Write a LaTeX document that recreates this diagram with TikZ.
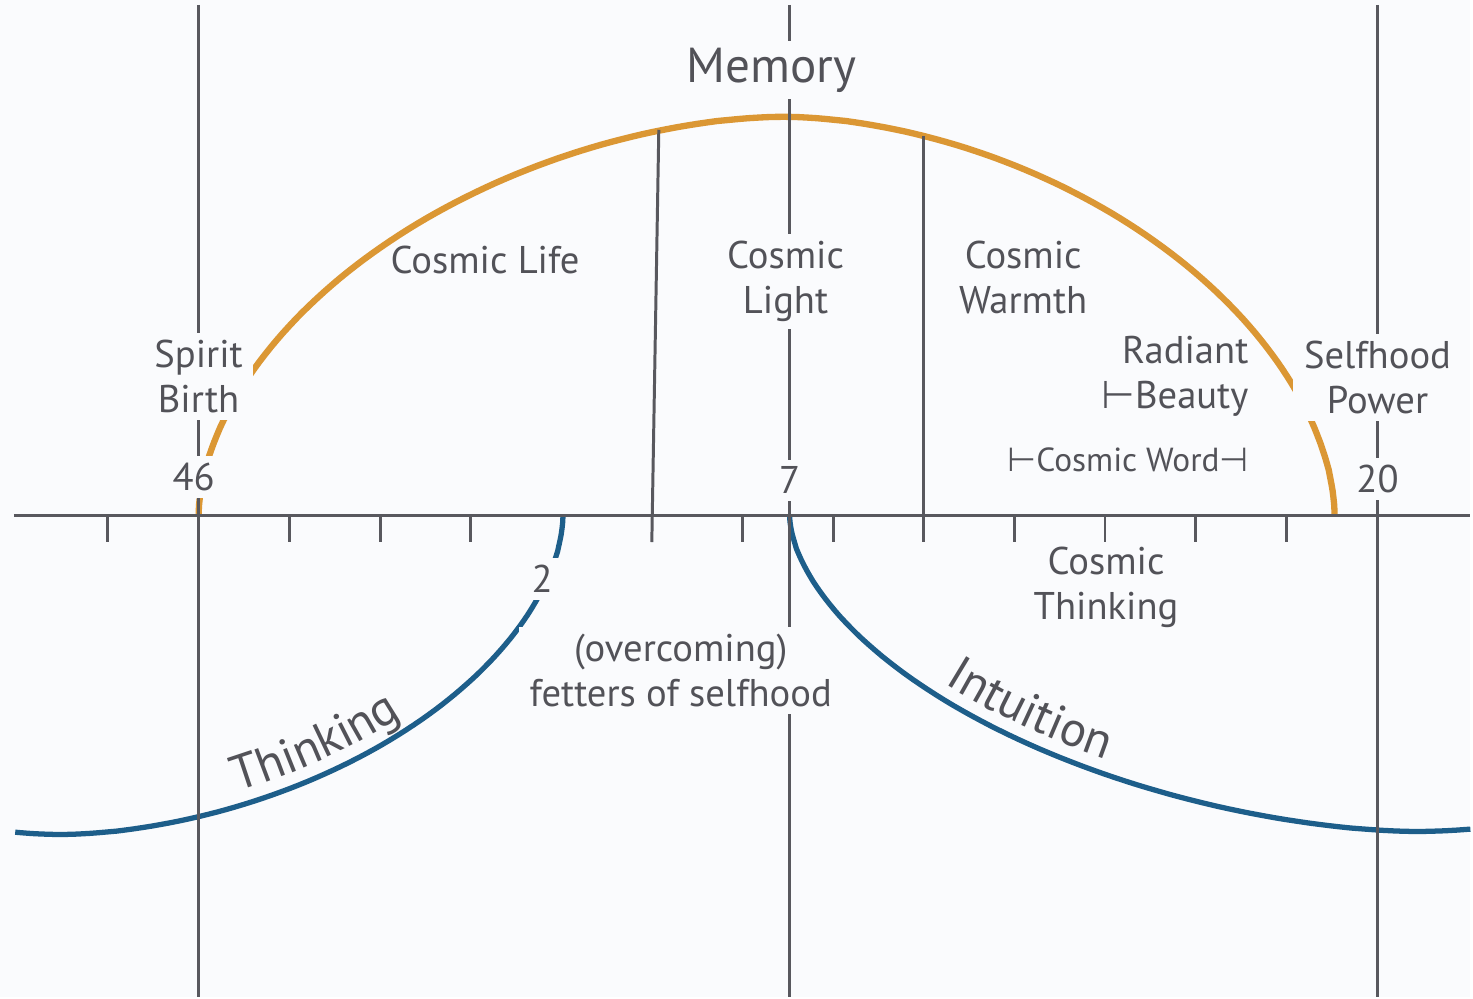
\documentclass[tikz,border=0pt]{standalone}
\usepackage{fontspec}
\setmainfont{PT Sans}
\newfontfamily\tackfont{DejaVu Sans}
\usetikzlibrary{decorations.text}
\definecolor{bgc}{RGB}{250,251,253}
\definecolor{ochre}{RGB}{219,151,52}
\definecolor{deepblue}{RGB}{29,94,138}
\definecolor{ink}{RGB}{82,82,88}
\definecolor{rulec}{RGB}{88,88,94}
\newcommand{\curvefont}{\fontsize{14}{16}\selectfont\color{ink}}
\tikzset{
	lbl/.style={text=ink, font=\fontsize{11}{12.8}\selectfont, align=center, inner sep=1pt},
	gap/.style={fill=bgc, inner xsep=3pt, inner ysep=2pt},
	bigl/.style={lbl, font=\fontsize{14}{16}\selectfont},
	smalll/.style={lbl, font=\fontsize{9.5}{11}\selectfont},
	rule/.style={draw=rulec, line width=0.85pt},
	memarc/.style={draw=ochre, line width=1.8pt},
	thinarc/.style={draw=deepblue, line width=1.5pt},
	curvetext/.style={decorate, decoration={text along path, text align=center, raise=4pt, text={|\curvefont|#1}}}
}

\begin{document}
\begin{tikzpicture}[x=0.01cm, y=-0.01cm]
		%%%%% START %%%%%
		\fill[bgc] (0,0) rectangle (1473,999);
		
		% memory arc, left and right halves
		\draw[memarc] plot[domain=0.01:89.99, samples=80] ({785-586*(cos(\x))^1.111}, {516-399*(sin(\x))^1.111})
			-- plot[domain=89.99:0.01, samples=80] ({785+552*(cos(\x))^1.111}, {516-399*(sin(\x))^1.111});
		
		% thinking and intuition
		\draw[thinarc] plot[domain=0.01:89.99, samples=80] ({60+504*(cos(\x))^1.111}, {516+320*(sin(\x))^1.111})
			-- plot[domain=0.01:6.5, samples=10] ({60-504*(sin(\x))^1.111}, {516+320*(cos(\x))^1.111});
		\draw[thinarc] plot[domain=0.01:89.99, samples=80] ({1420-629*(cos(\x))^1.143}, {516+317*(sin(\x))^1.143})
			-- plot[domain=0.01:6.6, samples=10] ({1420+629*(sin(\x))^1.143}, {516+317*(cos(\x))^1.143});
		\path[curvetext=Thinking] plot[domain=70:40, samples=30] ({60+504*(cos(\x))^1.111}, {516+320*(sin(\x))^1.111});
		\path[curvetext=Intuition] plot[domain=35:59, samples=30] ({1420-629*(cos(\x))^1.143}, {516+317*(sin(\x))^1.143});
		
		\draw[rule] (14,516) -- (1473,516);
		\draw[rule] (199,5) -- (199,999);
		\draw[rule] (791,5) -- (791,999);
		\draw[rule] (1380,5) -- (1380,999);
		\draw[rule] (660,130) -- (653,543);
		\draw[rule] (925,136) -- (925,543);
		\foreach \x in {108,290,381,471,744,835,1016,1107,1198,1289}
			\draw[rule] (\x,516) -- (\x,543);
		
		\node[bigl, gap] (memory) at (773,70) {Memory};
		\node[lbl] (life) at (486,260) {Cosmic Life};
		\node[lbl, gap] (light) at (787,282) {Cosmic\\Light};
		\node[lbl] (warmth) at (1025,278) {Cosmic\\Warmth};
		\node[lbl, gap] (spirit) at (199,377) {Spirit\\Birth};
		\node[lbl, align=right] (beauty) at (1177,377) {Radiant\\{\tackfont ⊢}Beauty};
		\node[lbl, gap] (selfhood) at (1380,378) {Selfhood\\Power};
		\node[lbl, gap] (n46) at (194,478) {46};
		\node[lbl, gap] (n7) at (791,481) {7};
		\node[lbl, gap] (n20) at (1380,480) {20};
		\node[smalll] (word) at (1130,461) {{\tackfont ⊢}Cosmic Word{\tackfont ⊣}};
		\node[lbl] (cthinking) at (1108,588) {Cosmic\\Thinking};
		\node[lbl, gap] (n2) at (543,580) {2};
		\node[lbl, gap] (fetters) at (682,672) {(overcoming)\\fetters of selfhood};
		%%%%% END %%%%%
\end{tikzpicture}
\end{document}
